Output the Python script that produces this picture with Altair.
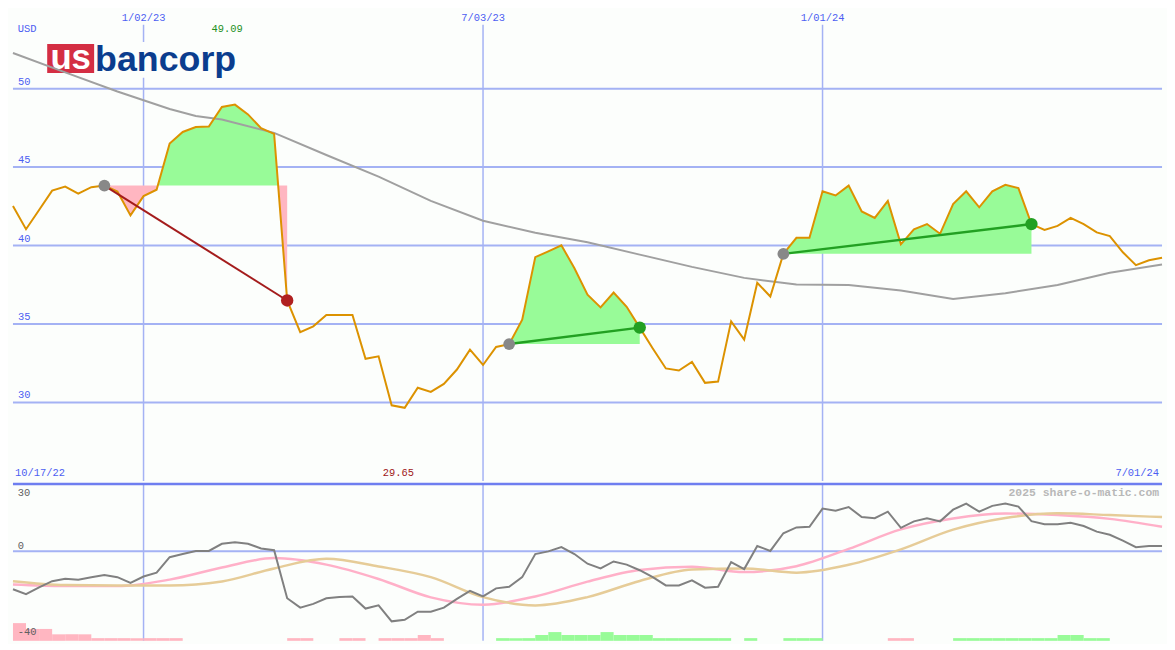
import altair as alt
import pandas as pd

# ---------------- data ----------------
weeks = list(range(89))  # weekly, week 0 = 10/24/22 ... week 88 = 7/01/24
price = [42.52, 41.04, 42.27, 43.50, 43.76, 43.31, 43.72, 43.82, 43.44, 41.92,
         43.15, 43.56, 46.50, 47.24, 47.55, 47.58, 48.83, 48.98, 48.36, 47.48,
         47.12, 36.50, 34.48, 34.85, 35.58, 35.58, 35.58, 32.78, 32.94, 29.82,
         29.66, 30.94, 30.67, 31.18, 32.10, 33.37, 32.39, 33.54, 33.72, 35.28,
         39.26, 39.63, 40.02, 38.55, 36.87, 36.06, 37.01, 36.10, 34.77, 33.44,
         32.17, 32.04, 32.58, 31.25, 31.33, 35.17, 34.01, 37.63, 36.75, 39.47,
         40.49, 40.49, 43.46, 43.19, 43.82, 42.17, 41.76, 42.84, 40.08, 41.04,
         41.37, 40.75, 42.64, 43.46, 42.44, 43.46, 43.87, 43.66, 41.37, 41.00,
         41.25, 41.76, 41.37, 40.84, 40.60, 39.57, 38.75, 39.06, 39.22]

ma_weeks = [0, 4, 8, 12, 14, 16, 20, 24, 28, 32, 36, 40, 44, 48, 52, 56, 60, 64,
            68, 72, 76, 80, 84, 88]
ma_vals = [52.27, 51.04, 49.82, 48.70, 48.26, 48.03, 47.18, 45.77, 44.39, 42.85,
           41.58, 40.82, 40.21, 39.42, 38.64, 37.94, 37.52, 37.48, 37.13, 36.59,
           36.96, 37.49, 38.27, 38.79]

osc = [-17.0, -19.2, -16.2, -13.4, -12.3, -12.7, -11.6, -10.6, -11.6, -14.2,
       -11.3, -9.6, -2.7, -1.3, 0.1, 0.1, 3.3, 4.0, 3.3, 1.2,
       0.4, -21.0, -25.2, -23.5, -21.0, -20.5, -20.2, -25.6, -24.2, -31.3,
       -30.6, -27.0, -27.0, -25.2, -21.3, -17.7, -20.2, -16.6, -15.9, -11.6,
       -1.3, -0.1, 1.8, -1.3, -5.6, -7.7, -4.6, -6.0, -8.5, -11.6,
       -15.3, -15.3, -13.0, -16.3, -15.9, -4.9, -8.0, 2.3, 0.1, 8.0,
       10.6, 10.9, 19.0, 18.0, 19.7, 15.2, 14.7, 17.6, 10.4, 13.3,
       14.7, 13.3, 18.5, 21.2, 17.6, 20.2, 21.2, 19.9, 13.4, 12.0,
       12.0, 12.7, 11.2, 8.7, 7.3, 4.7, 1.8, 2.3, 2.3]

sig_weeks = [0, 4, 8, 12, 16, 20, 24, 28, 32, 36, 40, 44, 48, 52, 56, 60, 64, 68,
             72, 76, 80, 84, 88]
pink_sig = [-14.9, -15.6, -15.6, -12.7, -7.3, -3.1, -6.0, -12.4, -20.6, -23.9,
            -20.2, -13.6, -8.4, -7.0, -9.3, -6.7, 1.0, 9.7, 14.6, 16.8,
            16.1, 14.4, 10.9]
tan_sig = [-13.4, -15.1, -15.3, -15.3, -13.5, -7.7, -3.4, -6.8, -11.6, -20.5,
           -24.2, -20.5, -13.3, -8.2, -7.7, -9.6, -6.1, 0.8, 9.6, 14.8,
           16.9, 16.1, 15.2]

hist = ([-7.9, -5.3, -5.3, -2.9, -2.9, -2.9] + [-1.2] * 7 + [0] * 8 +
        [-1.2, -1.2, 0, 0, -1.2, -1.2, 0, -1.2, -1.2, -1.2, -2.6, -1.2] + [0] * 4 +
        [1.2, 1.2, 1.2, 2.6, 3.9, 2.6, 2.6, 2.6, 3.9, 2.6, 2.6, 2.6] + [1.2] * 6 +
        [0, 1.2, 0, 0, 1.2, 1.2, 1.2] + [0] * 5 + [-1.2, -1.2, 0, 0, 0] + [1.2] * 8 +
        [2.6, 2.6, 1.2, 1.2] + [0] * 4)

entry_weeks = [7, 38, 59]
exit_weeks = [21, 48, 78]
trade_win = [False, True, True]

price_ticks = [50, 45, 40, 35, 30]
date_weeks = [10, 36, 62]
date_labels = ["1/02/23", "7/03/23", "1/01/24"]

# ---------------- styling ----------------
W, H1, H2 = 1157, 474, 158
SX, SY1, SY2 = W / 1175, H1 / 487, H2 / 163
BG = "#fcfefc"
GRID = "#a4b2f4"
SEP = "#6e7ef0"
LBL = "#4d5ef2"
ORANGE = "#dc9200"
MAGRAY = "#a0a0a0"
GREENF = "#98fb98"
PINKF = "#ffb6c1"
GREENL = "#22a022"
REDL = "#a41c1c"
MONO = "Liberation Mono"
FS = 10.5

X = alt.Scale(domain=[0, 88], nice=False, zero=False)
YT = alt.Scale(domain=[25, 55], nice=False, zero=False)
YB = alt.Scale(domain=[-40, 30], nice=False, zero=False)


def xq(f):
    return alt.X(f, type="quantitative", scale=X, axis=None)


def yt(f):
    return alt.Y(f, type="quantitative", scale=YT, axis=None)


def yb(f):
    return alt.Y(f, type="quantitative", scale=YB, axis=None)


one = pd.DataFrame({"a": [0]})

# ---------------- tables ----------------
price_df = pd.DataFrame({"w": weeks, "p": price})
ma_df = pd.DataFrame({"w": ma_weeks, "v": ma_vals})
osc_df = pd.DataFrame({"w": weeks, "v": osc})
sig_df = pd.DataFrame({"w": sig_weeks, "pink": pink_sig, "tan": tan_sig})
hist_df = pd.DataFrame({"w": list(range(len(hist))), "h": hist})
hist_df["w2"] = hist_df["w"] + 1
hist_df["base"] = -40.0
hist_df["top"] = -40.0 + hist_df["h"].abs()
tick_df = pd.DataFrame({"v": price_ticks, "t": [str(t) for t in price_ticks]})
date_df = pd.DataFrame({"w": date_weeks, "t": date_labels})

rows = []
for t, (e, x) in enumerate(zip(entry_weeks, exit_weeks)):
    L = price[e]
    pts = []
    for w in range(e, x + 1):
        if w > e:
            p0, p1 = price[w - 1], price[w]
            if (p0 - L) * (p1 - L) < 0:
                f = (L - p0) / (p1 - p0)
                pts.append((w - 1 + f, L))
        pts.append((w, price[w]))
    for xx, pp in pts:
        rows.append({"trade": t, "w": xx, "up": max(pp, L), "dn": min(pp, L), "L": L})
fill_df = pd.DataFrame(rows)

tl_rows = []
for t, (e, x) in enumerate(zip(entry_weeks, exit_weeks)):
    for w in (e, x):
        tl_rows.append({"trade": t, "w": w, "p": price[w], "win": trade_win[t]})
tl_df = pd.DataFrame(tl_rows)
entry_df = pd.DataFrame({"w": entry_weeks, "p": [price[e] for e in entry_weeks]})
exit_df = pd.DataFrame({"w": exit_weeks, "p": [price[x] for x in exit_weeks],
                        "win": trade_win})

# ---------------- top panel ----------------
hgrid = alt.Chart(tick_df).mark_rule(color=GRID, strokeWidth=2).encode(y=yt("v"))
vgrid = alt.Chart(date_df).mark_rule(color=GRID, strokeWidth=1.5).encode(
    x=xq("w"), y=alt.value(15 * SY1), y2=alt.value(H1))
tick_txt = alt.Chart(tick_df).mark_text(
    align="left", baseline="bottom", dy=-2, font=MONO, fontSize=FS, color=LBL
).encode(x=alt.value(5), y=yt("v"), text="t:N")
date_txt = alt.Chart(date_df).mark_text(
    align="center", baseline="middle", font=MONO, fontSize=FS, color=LBL
).encode(x=xq("w"), y=alt.value(8 * SY1), text="t:N")

logo_bg = alt.Chart(one).mark_rect(color=BG).encode(
    x=alt.value(33 * SX), x2=alt.value(237 * SX), y=alt.value(33 * SY1), y2=alt.value(70 * SY1))
logo_red = alt.Chart(one).mark_rect(color="#d42e43").encode(
    x=alt.value(35 * SX), x2=alt.value(83 * SX), y=alt.value(35 * SY1), y2=alt.value(65 * SY1))
logo_us = alt.Chart(one).mark_text(
    text="us", align="center", baseline="alphabetic", font="Liberation Sans",
    fontWeight="bold", fontSize=35, color="white").encode(
    x=alt.value(59 * SX), y=alt.value(61 * SY1))
logo_b = alt.Chart(one).mark_text(
    text="bancorp", align="left", baseline="alphabetic", font="Liberation Sans",
    fontWeight="bold", fontSize=36, color="#0b3d8e").encode(
    x=alt.value(84 * SX), y=alt.value(63 * SY1))

fill_g = alt.Chart(fill_df).mark_area(color=GREENF, opacity=1).encode(
    x=xq("w"), y=alt.Y("up:Q", scale=YT, axis=None, stack=None), y2="L:Q",
    detail="trade:N")
fill_p = alt.Chart(fill_df).mark_area(color=PINKF, opacity=1).encode(
    x=xq("w"), y=alt.Y("dn:Q", scale=YT, axis=None, stack=None), y2="L:Q",
    detail="trade:N")

ma_line = alt.Chart(ma_df).mark_line(color=MAGRAY, strokeWidth=2).encode(
    x=xq("w"), y=yt("v"))
price_line = alt.Chart(price_df).mark_line(color=ORANGE, strokeWidth=2).encode(
    x=xq("w"), y=yt("p"))

tl_win = alt.Chart(tl_df).transform_filter("datum.win").mark_line(
    color=GREENL, strokeWidth=2.5).encode(x=xq("w"), y=yt("p"), detail="trade:N")
tl_loss = alt.Chart(tl_df).transform_filter("!datum.win").mark_line(
    color=REDL, strokeWidth=2).encode(x=xq("w"), y=yt("p"), detail="trade:N")

m_entry = alt.Chart(entry_df).mark_circle(color="#888888", size=140, opacity=1).encode(
    x=xq("w"), y=yt("p"))
m_exit_w = alt.Chart(exit_df).transform_filter("datum.win").mark_circle(
    color=GREENL, size=155, opacity=1).encode(x=xq("w"), y=yt("p"))
m_exit_l = alt.Chart(exit_df).transform_filter("!datum.win").mark_circle(
    color="#b02020", size=155, opacity=1).encode(x=xq("w"), y=yt("p"))

def ptext(txt, x, y, color, align="left"):
    return alt.Chart(one).mark_text(
        text=txt, align=align, baseline="middle", font=MONO, fontSize=FS, color=color
    ).encode(x=alt.value(x), y=alt.value(y))

t_usd = ptext("USD", 5 * SX, 20 * SY1, LBL)
t_max = ptext("49.09", 219 * SX, 20 * SY1, "#239023", "center")
t_start = ptext("10/17/22", 2 * SX, 479 * SY1, LBL)
t_min = ptext("29.65", 394 * SX, 479 * SY1, "#a01818", "center")
t_end = ptext("7/01/24", 1172 * SX, 479 * SY1, LBL, "right")

top = alt.layer(
    hgrid, vgrid, logo_bg, logo_red, logo_us, logo_b,
    fill_g, fill_p, ma_line, price_line, tl_loss, tl_win,
    m_entry, m_exit_l, m_exit_w,
    tick_txt, date_txt, t_usd, t_max, t_start, t_min, t_end
).properties(width=W, height=H1)

# ---------------- bottom panel ----------------
b_vgrid = alt.Chart(date_df).mark_rule(color=GRID, strokeWidth=1.5).encode(
    x=xq("w"), y=alt.value(0), y2=alt.value(H2))
zero_df = pd.DataFrame({"v": [0]})
b_zero = alt.Chart(zero_df).mark_rule(color=GRID, strokeWidth=2).encode(y=yb("v"))
b_sep = alt.Chart(one).mark_rule(color=SEP, strokeWidth=2.5).encode(
    x=alt.value(0), x2=alt.value(W), y=alt.value(0))

bars_g = alt.Chart(hist_df).transform_filter("datum.h > 0").mark_rect(color=GREENF).encode(
    x=xq("w"), x2="w2:Q", y=yb("base"), y2="top:Q")
bars_p = alt.Chart(hist_df).transform_filter("datum.h < 0").mark_rect(color=PINKF).encode(
    x=xq("w"), x2="w2:Q", y=yb("base"), y2="top:Q")

pink_line = alt.Chart(sig_df).mark_line(color="#ffb0c8", strokeWidth=2.5,
                                        interpolate="monotone").encode(x=xq("w"), y=yb("pink"))
tan_line = alt.Chart(sig_df).mark_line(color="#e6cc98", strokeWidth=2.5,
                                       interpolate="monotone").encode(x=xq("w"), y=yb("tan"))
osc_line = alt.Chart(osc_df).mark_line(color="#808080", strokeWidth=2).encode(
    x=xq("w"), y=yb("v"))

def btext(txt, x, y, color="#606060", align="left", size=FS, weight="normal"):
    return alt.Chart(one).mark_text(
        text=txt, align=align, baseline="middle", font=MONO, fontSize=size,
        fontWeight=weight, color=color).encode(x=alt.value(x), y=alt.value(y))

b30 = btext("30", 5 * SX, 9 * SY2)
b0 = btext("0", 5 * SX, 64 * SY2)
b40 = btext("-40", 5 * SX, 154 * SY2)
wm = btext("2025 share-o-matic.com", 1172 * SX, 9 * SY2, "#b8b8b8", "right", 11.5, "bold")

bottom = alt.layer(
    b_vgrid, b_zero, bars_p, bars_g, pink_line, tan_line, osc_line, b_sep,
    b30, b0, b40, wm
).properties(width=W, height=H2)

chart = alt.vconcat(top, bottom, spacing=0).resolve_scale(
    x="independent", y="independent"
).properties(padding=0).configure(background=BG).configure_view(
    stroke="transparent", strokeWidth=0)

chart.save("out.html", embed_options={"renderer": "svg", "actions": False})
